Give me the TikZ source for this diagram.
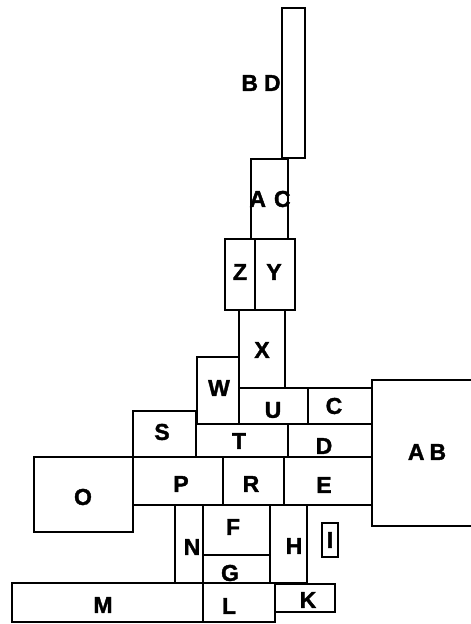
\documentclass[tikz,border=0pt]{standalone}
\usepackage{fontspec}
\setmainfont{Liberation Sans}
\newfontfamily\labfont[FakeBold=1.5]{Liberation Sans Bold}
\begin{document}
\begin{tikzpicture}[x=1pt,y=-1pt,
  cell/.style={draw=black,line width=2.6pt,line join=miter},
  lab/.style={font=\labfont\fontsize{23}{26}\selectfont,inner sep=0pt,anchor=center}]
\useasboundingbox (0,0) rectangle (471,624);
% rectangles
\draw[cell] (282,8) rectangle (305,158);
\draw[cell] (251,159) rectangle (288,239);
\draw[cell] (225,239) rectangle (255,310);
\draw[cell] (255,239) rectangle (295,310);
\draw[cell] (239,310) rectangle (285,388);
\draw[cell] (197,357) rectangle (239,424);
\draw[cell] (239,388) rectangle (308,424);
\draw[cell] (308,388) rectangle (372,424);
\draw[cell] (473,380) -- (372,380) -- (372,526) -- (473,526);
\draw[cell] (133,411) rectangle (196,457);
\draw[cell] (196,424) rectangle (288,457);
\draw[cell] (288,424) rectangle (372,457);
\draw[cell] (34,457) rectangle (133,532);
\draw[cell] (133,457) rectangle (223,505);
\draw[cell] (223,457) rectangle (284,505);
\draw[cell] (284,457) rectangle (372,505);
\draw[cell] (175,505) rectangle (203,583);
\draw[cell] (203,505) rectangle (270,555);
\draw[cell] (203,555) rectangle (270,583);
\draw[cell] (270,505) rectangle (307,583);
\draw[cell] (322,523) rectangle (338,557);
\draw[cell] (12,583) rectangle (203,622);
\draw[cell] (203,583) rectangle (275,622);
\draw[cell] (275,584) rectangle (335,612);
% labels
\node[lab] (bd) at (261,83) {B\kern6pt D};
\node[lab] (ac) at (270,199) {A\kern8pt C};
\node[lab] (z) at (240,272) {Z};
\node[lab] (y) at (274,272) {Y};
\node[lab] (x) at (262,350) {X};
\node[lab] (w) at (219,388) {W};
\node[lab] (u) at (273,410) {U};
\node[lab] (c) at (334,406) {C};
\node[lab] (ab) at (427,452) {A\kern5pt B};
\node[lab] (s) at (162,432) {S};
\node[lab] (t) at (239,441) {T};
\node[lab] (d) at (324,446) {D};
\node[lab] (o) at (83,497) {O};
\node[lab] (p) at (181,484) {P};
\node[lab] (r) at (251,484) {R};
\node[lab] (e) at (324,485) {E};
\node[lab] (n) at (192,547) {N};
\node[lab] (f) at (233,527) {F};
\node[lab] (g) at (230,573) {G};
\node[lab] (h) at (294,546) {H};
\node[lab] (i) at (330,540) {I};
\node[lab] (m) at (103,605) {M};
\node[lab] (l) at (229,606) {L};
\node[lab] (k) at (308,600) {K};
\end{tikzpicture}
\end{document}
